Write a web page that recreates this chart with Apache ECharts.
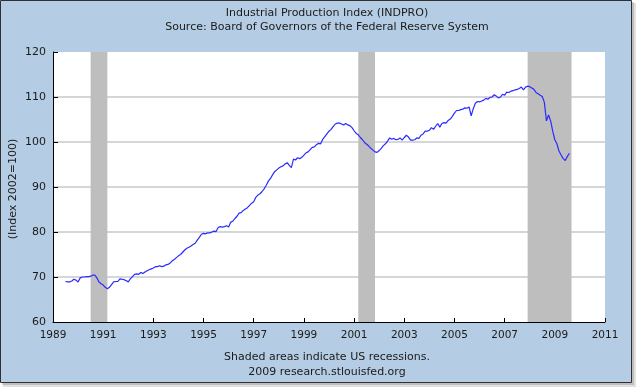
<!DOCTYPE html>
<html><head><meta charset="utf-8">
<script src="https://cdn.jsdelivr.net/npm/echarts@6/dist/echarts.min.js"></script>
<style>html,body{margin:0;padding:0;background:#fff}#c{width:644px;height:388px}</style>
</head><body><div id="c"></div>
<script>
// ---- data ----
const titleLines = ['Industrial Production Index (INDPRO)', 'Source: Board of Governors of the Federal Reserve System'];
const footerLines = ['Shaded areas indicate US recessions.', '2009 research.stlouisfed.org'];
const yAxisName = '(Index 2002=100)';
const baseYear = 1989;           // x-axis origin (tick labels = baseYear + offset)
const xTickYears = [1989, 1991, 1993, 1995, 1997, 1999, 2001, 2003, 2005, 2007, 2009, 2011];
const yTicks = [60, 70, 80, 90, 100, 110, 120];
const startYear = 1989, startMonth = 7; // first monthly observation: Jul 1989
const indpro = [
  /*1989*/ 69.0, 68.9, 68.9, 69.1, 69.5, 69.3,
  /*1990*/ 68.9, 69.8, 70.0, 70.0, 70.1, 70.1, 70.2, 70.4, 70.4, 69.8, 68.9, 68.5,
  /*1991*/ 68.2, 67.7, 67.4, 67.7, 68.3, 68.9, 69.0, 69.0, 69.6, 69.5, 69.4, 69.2,
  /*1992*/ 68.9, 69.6, 70.1, 70.6, 70.7, 70.6, 71.0, 70.8, 71.1, 71.4, 71.6, 71.8,
  /*1993*/ 72.0, 72.3, 72.3, 72.5, 72.3, 72.4, 72.7, 72.8, 73.1, 73.6, 73.9, 74.3,
  /*1994*/ 74.7, 75.0, 75.5, 76.0, 76.4, 76.6, 76.9, 77.2, 77.5, 78.2, 78.8, 79.5,
  /*1995*/ 79.7, 79.6, 79.8, 79.8, 80.0, 80.2, 80.1, 81.0, 81.2, 81.1, 81.2, 81.4,
  /*1996*/ 81.1, 82.2, 82.4, 83.0, 83.5, 84.2, 84.3, 84.8, 85.1, 85.4, 85.9, 86.4,
  /*1997*/ 86.7, 87.7, 88.2, 88.5, 89.0, 89.6, 90.4, 91.3, 91.9, 92.7, 93.4, 93.8,
  /*1998*/ 94.2, 94.5, 94.7, 95.1, 95.4, 94.8, 94.3, 96.2, 96.0, 96.5, 96.3, 96.6,
  /*1999*/ 97.1, 97.6, 97.8, 98.3, 98.8, 98.9, 99.4, 99.7, 99.6, 100.6, 101.2, 101.8,
  /*2000*/ 102.4, 102.8, 103.4, 104.0, 104.2, 104.2, 104.0, 103.8, 104.1, 103.8, 103.6, 103.2,
  /*2001*/ 102.5, 101.9, 101.6, 101.0, 100.5, 99.9, 99.5, 99.1, 98.6, 98.2, 97.8, 97.7,
  /*2002*/ 98.1, 98.6, 99.2, 99.6, 100.2, 100.9, 100.6, 100.8, 100.5, 100.6, 100.9, 100.4,
  /*2003*/ 101.0, 101.5, 101.1, 100.4, 100.4, 100.5, 100.9, 100.8, 101.5, 101.8, 102.4, 102.4,
  /*2004*/ 102.6, 103.2, 102.8, 103.5, 104.1, 103.3, 104.1, 104.3, 104.2, 104.8, 105.1, 105.7,
  /*2005*/ 106.4, 107.0, 107.0, 107.2, 107.3, 107.6, 107.5, 107.8, 105.8, 107.4, 108.6, 109.0,
  /*2006*/ 108.9, 109.1, 109.3, 109.7, 109.5, 109.9, 110.0, 110.5, 110.2, 109.8, 110.0, 110.6,
  /*2007*/ 110.4, 111.1, 111.0, 111.3, 111.4, 111.6, 111.7, 111.9, 112.2, 111.6, 112.2, 112.4,
  /*2008*/ 112.3, 112.0, 111.7, 111.0, 110.7, 110.4, 110.1, 108.8, 104.7, 106.0, 104.7, 102.4,
  /*2009*/ 100.5, 99.6, 98.0, 97.1, 96.3, 95.9, 96.8, 97.5
];
// recession periods [start, end] in decimal years
const recessions = [[1990.5, 1991.1667], [2001.1667, 2001.8333], [2007.9167, 2009.6667]];

// ---- build ----
const FONT = "'DejaVu Sans', Verdana, sans-serif";
const lineData = indpro.map((v, i) => {
  const t = startYear + (startMonth - 1 + i) / 12;
  return [t - baseYear, v];
});
const areaData = recessions.map(r => [{ xAxis: r[0] - baseYear }, { xAxis: r[1] - baseYear }]);
const xMin = xTickYears[0] - baseYear, xMax = xTickYears[xTickYears.length - 1] - baseYear;
const txt = { fontFamily: FONT, fontSize: 11, fontWeight: 'normal', color: '#1a1a1a' };

const chart = echarts.init(document.getElementById('c'), null, { renderer: 'canvas' });
chart.setOption({
  animation: false,
  backgroundColor: '#ffffff',
  graphic: [
    { type: 'rect', z: -10, shape: { x: 3, y: 3, width: 633, height: 384 }, style: { fill: 'rgba(0,0,0,0.12)' } },
    { type: 'rect', z: -10, shape: { x: 2, y: 2, width: 632, height: 383 }, style: { fill: 'rgba(0,0,0,0.15)' } },
    { type: 'rect', z: -9, shape: { x: 0.5, y: 0.5, width: 631, height: 382 }, style: { fill: '#b5cde4', stroke: '#303030', lineWidth: 1 } },
    { type: 'text', x: 13, y: 189, rotation: Math.PI / 2, z: 10,
      style: { text: yAxisName, align: 'center', verticalAlign: 'middle', font: '11px ' + FONT, fill: '#1a1a1a' } }
  ],
  title: [
    { text: titleLines[0], left: 322, top: 3, textAlign: 'center', textStyle: txt },
    { text: titleLines[1], left: 322, top: 17, textAlign: 'center', textStyle: txt },
    { text: footerLines[0], left: 322, top: 347, textAlign: 'center', textStyle: txt },
    { text: footerLines[1], left: 322, top: 362, textAlign: 'center', textStyle: txt }
  ],
  grid: { left: 53, right: 39, top: 52, bottom: 66, show: true, backgroundColor: '#ffffff', borderWidth: 0, containLabel: false, outerBoundsMode: 'none' },
  xAxis: {
    type: 'value', min: xMin, max: xMax, interval: 2,
    axisLine: { show: true, onZero: false, lineStyle: { color: '#000', width: 1 } },
    axisTick: { show: true, inside: true, length: 4, lineStyle: { color: '#000' } },
    axisLabel: { formatter: v => String(v + baseYear), fontFamily: FONT, fontSize: 10.5, color: '#1a1a1a', margin: 8, showMinLabel: true, showMaxLabel: true },
    splitLine: { show: false }
  },
  yAxis: {
    type: 'value', min: yTicks[0], max: yTicks[yTicks.length - 1], interval: 10,
    axisLine: { show: true, onZero: false, lineStyle: { color: '#000', width: 1 } },
    axisTick: { show: true, inside: true, length: 5, lineStyle: { color: '#000' } },
    axisLabel: { fontFamily: FONT, fontSize: 11, color: '#1a1a1a', margin: 7 },
    splitLine: { show: true, showMinLine: false, showMaxLine: false, lineStyle: { color: '#c8c8c8', width: 1.5 } }
  },
  series: [
    {
      type: 'line', name: 'recessions', data: [], z: 1, silent: true,
      markArea: { silent: true, itemStyle: { color: '#bebebe', opacity: 1 }, data: areaData }
    },
    {
      type: 'line', name: 'INDPRO', data: lineData, z: 3, symbol: 'none', showSymbol: false,
      lineStyle: { color: '#2a2aff', width: 1.2 }
    }
  ]
});
</script></body></html>
